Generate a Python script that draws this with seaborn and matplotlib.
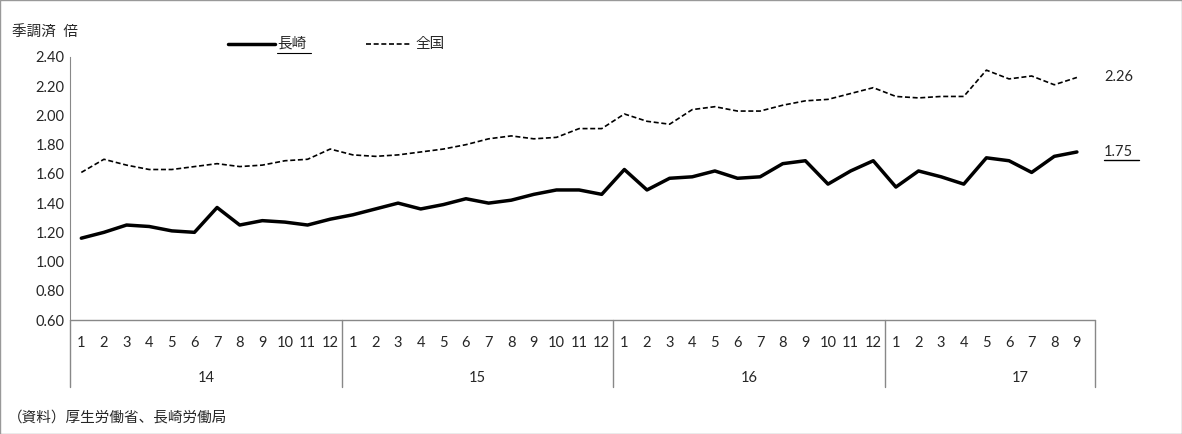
import matplotlib
matplotlib.use("Agg")
import matplotlib.pyplot as plt
import seaborn as sns
import numpy as np
import pandas as pd

years = ["14", "15", "16", "17"]
months_per_year = [12, 12, 12, 9]
nagasaki = [1.16, 1.20, 1.25, 1.24, 1.21, 1.20, 1.37, 1.25, 1.28, 1.27, 1.25, 1.29,
            1.32, 1.36, 1.40, 1.36, 1.39, 1.43, 1.40, 1.42, 1.46, 1.49, 1.49, 1.46,
            1.63, 1.49, 1.57, 1.58, 1.62, 1.57, 1.58, 1.67, 1.69, 1.53, 1.62, 1.69,
            1.51, 1.62, 1.58, 1.53, 1.71, 1.69, 1.61, 1.72, 1.75]
zenkoku = [1.61, 1.70, 1.66, 1.63, 1.63, 1.65, 1.67, 1.65, 1.66, 1.69, 1.70, 1.77,
           1.73, 1.72, 1.73, 1.75, 1.77, 1.80, 1.84, 1.86, 1.84, 1.85, 1.91, 1.91,
           2.01, 1.96, 1.94, 2.04, 2.06, 2.03, 2.03, 2.07, 2.10, 2.11, 2.15, 2.19,
           2.13, 2.12, 2.13, 2.13, 2.31, 2.25, 2.27, 2.21, 2.26]
month_labels = [str(m) for n in months_per_year for m in range(1, n + 1)]

sns.set_style("white")
plt.rcParams['font.family'] = ['Lato', 'Noto Sans CJK JP', 'DejaVu Sans']
FS = 10.5

df = pd.DataFrame({"x": np.arange(len(nagasaki)), "長崎": nagasaki, "全国": zenkoku})

fig = plt.figure(figsize=(11.82, 4.34), dpi=100)
ax = fig.add_axes([70 / 1182, 1 - 320 / 434, 1025 / 1182, 263 / 434])
n = len(nagasaki)
slots = 45
xmax = slots - 0.5 + 0.3
sns.lineplot(data=df, x="x", y="長崎", ax=ax, color="black", lw=2.5)
sns.lineplot(data=df, x="x", y="全国", ax=ax, color="black", lw=1.2, linestyle=(0, (3, 1.6)))
ax.set_xlim(-0.5, xmax)
ax.set_ylim(0.6, 2.4)
ticks = np.arange(0.6, 2.41, 0.2)
ax.set_yticks(ticks)
ax.set_yticklabels([f"{v:.2f}" for v in ticks], fontsize=FS)
ax.tick_params(axis="y", length=0, pad=4)
ax.set_xticks([])
ax.set_xlabel("")
ax.set_ylabel("")
for s in ["top", "right", "bottom"]:
    ax.spines[s].set_visible(False)
ax.spines["left"].set_color("#888888")

# multi-level category axis
trans = ax.get_xaxis_transform()
ax.plot([-0.5, xmax], [0, 0], transform=trans, color="#888888", lw=1, clip_on=False)
for i, lab in enumerate(month_labels):
    ax.text(i, -0.087, lab, transform=trans, ha="center", va="center", fontsize=FS)
start = 0
for y, m in zip(years, months_per_year):
    ax.plot([start - 0.5] * 2, [0, -0.255], transform=trans, color="#888888", lw=1, clip_on=False)
    ax.text(start + (m if m == 12 else 12) / 2 - 0.5, -0.22, y, transform=trans,
            ha="center", va="center", fontsize=FS)
    start += 12
ax.plot([xmax] * 2, [0, -0.255], transform=trans, color="#888888", lw=1, clip_on=False)

# end labels
ax.text(n - 1 + 1.2, zenkoku[-1], f"{zenkoku[-1]:.2f}", va="center", fontsize=FS)
ax.text(n - 1 + 1.2, nagasaki[-1], f"{nagasaki[-1]:.2f}", va="center", fontsize=FS)
ax.plot([n - 1 + 1.2, n - 1 + 2.75], [nagasaki[-1] - 0.055] * 2, color="black", lw=1, clip_on=False)

# legend
fig.text(12 / 1182, 1 - 33 / 434, "季調済  倍", fontsize=FS, va="center")
fig.add_artist(plt.Line2D([228 / 1182, 275 / 1182], [1 - 44 / 434] * 2, color="black", lw=2.5))
fig.text(277 / 1182, 1 - 44 / 434, "長崎", fontsize=FS, va="center")
fig.add_artist(plt.Line2D([277 / 1182, 311 / 1182], [1 - 53 / 434] * 2, color="black", lw=0.8))
fig.add_artist(plt.Line2D([366 / 1182, 412 / 1182], [1 - 44 / 434] * 2, color="black", lw=1.2,
                          linestyle=(0, (3, 1.6))))
fig.text(415 / 1182, 1 - 44 / 434, "全国", fontsize=FS, va="center")

fig.text(8 / 1182, 1 - 418 / 434, "（資料）厚生労働省、長崎労働局", fontsize=FS, va="center")
fig.add_artist(plt.Rectangle((0, 0), 1, 1, fill=False, edgecolor="#999999", lw=1,
                             transform=fig.transFigure))
fig.savefig("out.png", dpi=100)
